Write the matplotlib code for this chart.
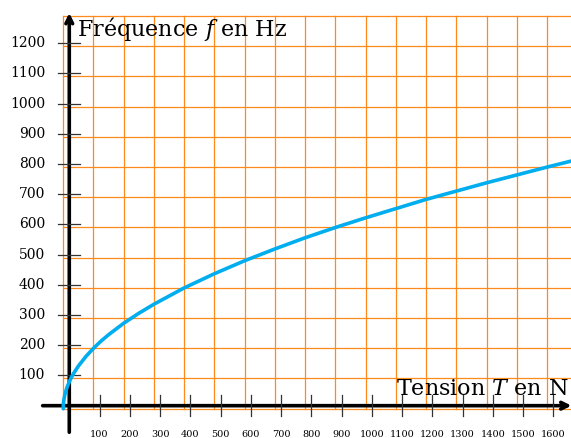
import numpy as np
import matplotlib
matplotlib.use("Agg")
import matplotlib.pyplot as plt

# values (grid frame: T in N, f in Hz)
tension = [0, 0.25, 1, 2, 5, 10, 15, 25, 35, 50, 75, 100, 125, 150, 200, 250,
           300, 400, 500, 600, 700, 800, 900, 1000, 1200, 1400, 1600, 1700]
freq = [0, 10, 20, 28, 45, 63, 77, 100, 118, 141, 173, 200, 224, 245, 283, 316,
        346, 400, 447, 490, 529, 566, 600, 632, 693, 748, 800, 825]

x_ticks = list(range(100, 1700, 100))
y_ticks = list(range(100, 1300, 100))

# the grid (and the curve drawn on it) sits slightly off the axes origin
shift_x, shift_y = -20, -10

plt.rcParams['mathtext.fontset'] = 'dejavuserif'
fig = plt.figure(figsize=(5.71, 4.38), dpi=100)
ax = fig.add_axes([0, 0, 1, 1])
ax.set_xlim(-229, 1658.5)
ax.set_ylim(-107, 1343)
ax.axis('off')

grid_col = '#ff8a1c'
gx = np.arange(0, 1800, 100) + shift_x
gy = np.arange(0, 1400, 100) + shift_y
for v in gx:
    ax.plot([v, v], [gy[0], gy[-1]], color=grid_col, lw=0.9, zorder=1)
for h in gy:
    ax.plot([gx[0], gx[-1]], [h, h], color=grid_col, lw=0.9, zorder=1)

# axes with arrows
ax.annotate('', xy=(1660, 0), xytext=(-88, 0),
            arrowprops=dict(arrowstyle='->', lw=2.6, color='black',
                            shrinkA=0, shrinkB=0, mutation_scale=12), zorder=3)
ax.annotate('', xy=(0, 1300), xytext=(0, -88),
            arrowprops=dict(arrowstyle='->', lw=2.6, color='black',
                            shrinkA=0, shrinkB=0, mutation_scale=12), zorder=3)

for t in x_ticks:
    ax.plot([t, t], [-34, 34], color='#333333', lw=0.9, zorder=4)
    ax.text(t, -95, str(t), ha='center', va='center', fontsize=7,
            family='DejaVu Serif')
for t in y_ticks:
    ax.plot([-36, 36], [t, t], color='#333333', lw=0.9, zorder=4)
    ax.text(-80, t, str(t), ha='right', va='center', fontsize=10,
            family='DejaVu Serif')

ax.plot(np.array(tension) + shift_x, np.array(freq) + shift_y,
        color='#00aeef', lw=2.6, zorder=5, solid_capstyle='round',
        solid_joinstyle='round')

ax.text(25, 1225, r'Fréquence $f$ en Hz', fontsize=16, family='DejaVu Serif',
        ha='left', va='baseline', zorder=6)
ax.text(1650, 35, r'Tension $T$ en N', fontsize=16, family='DejaVu Serif',
        ha='right', va='baseline', zorder=6)

fig.savefig('out.png', dpi=100, facecolor='white')
